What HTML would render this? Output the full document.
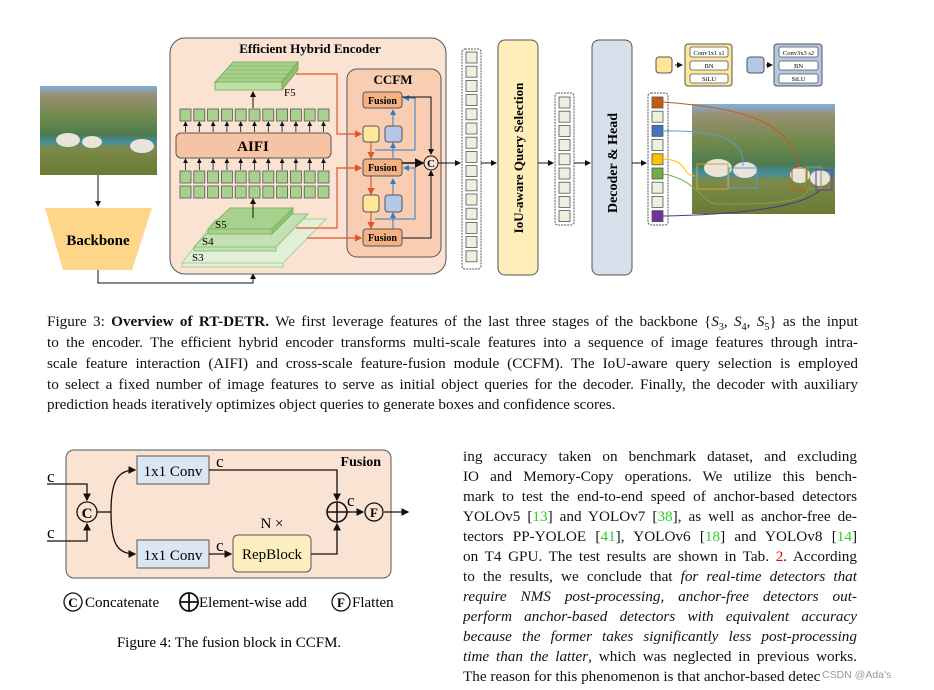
<!DOCTYPE html>
<html><head><meta charset="utf-8"><style>
html,body{margin:0;padding:0;background:#fff;width:934px;height:690px;overflow:hidden}
svg{position:absolute;left:0;top:0}
.t{position:absolute;font-family:"Liberation Serif",serif;font-size:15.2px;color:#111;line-height:20.8px;white-space:nowrap}
.j{text-align:justify;text-align-last:justify;white-space:normal;overflow:hidden;height:21px}
.g{color:#2bd12b}.r{color:#e00}
</style></head><body>
<svg width="934" height="690" viewBox="0 0 934 690" font-family="Liberation Serif,serif">
<defs>
<marker id="a" markerWidth="6" markerHeight="6" refX="5" refY="3" orient="auto"><path d="M0,0L6,3L0,6z" fill="#111"/></marker>
<marker id="ao" markerWidth="6" markerHeight="6" refX="5" refY="3" orient="auto"><path d="M0,0L6,3L0,6z" fill="#e0562a"/></marker>
<marker id="ab" markerWidth="6" markerHeight="6" refX="5" refY="3" orient="auto"><path d="M0,0L6,3L0,6z" fill="#2f7cc9"/></marker>
<linearGradient id="ph" x1="0" y1="0" x2="0" y2="1">
<stop offset="0" stop-color="#7fb0e0"/><stop offset="0.1" stop-color="#9a8f72"/><stop offset="0.35" stop-color="#6f8a4a"/><stop offset="0.55" stop-color="#4f7a50"/><stop offset="0.62" stop-color="#3f8fa0"/><stop offset="0.7" stop-color="#7d8a4a"/><stop offset="1" stop-color="#6a7a35"/></linearGradient>
</defs>
<rect x="40" y="86" width="117" height="89" fill="url(#ph)"/>
<ellipse cx="68" cy="140" rx="12" ry="7" fill="#e8e4da"/><ellipse cx="92" cy="142" rx="10" ry="6" fill="#e8e4da"/><ellipse cx="142" cy="146" rx="12" ry="7" fill="#e8e4da"/>
<line x1="98" y1="175" x2="98" y2="206" stroke="#111" marker-end="url(#a)"/>
<polygon points="45,208 152,208 132,270 63,270" fill="#fdd68a"/>
<text x="98" y="245" text-anchor="middle" font-weight="bold" font-size="15">Backbone</text>
<polyline points="98,270 98,283 253,283 253,274" fill="none" stroke="#111" marker-end="url(#a)"/>
<rect x="170" y="38" width="276" height="236" rx="15" fill="#fbe3d3" stroke="#555"/>
<text x="310" y="53" text-anchor="middle" font-weight="bold" font-size="13">Efficient Hybrid Encoder</text>
<polygon points="215,82 233,62 298,62 282,82" fill="#a9d18e" stroke="#6ea550" stroke-width="0.8"/>
<polygon points="215,82 282,82 282,90 215,90" fill="#bfe0a5" stroke="#6ea550" stroke-width="0.8"/>
<polygon points="282,82 298,62 298,70 282,90" fill="#8fbf70" stroke="#6ea550" stroke-width="0.8"/>
<g stroke="#6ea550" stroke-width="0.6">
<line x1="219" y1="78" x2="286" y2="78"/><line x1="222" y1="74" x2="289" y2="74"/><line x1="226" y1="70" x2="292" y2="70"/><line x1="229" y1="66" x2="295" y2="66"/>
</g>
<text x="284" y="96" font-size="11">F5</text>
<line x1="253" y1="108" x2="253" y2="92" stroke="#111" marker-end="url(#a)"/>
<g id="sq" fill="#a9d18e" stroke="#555" stroke-width="0.8">
<rect x="180" y="109" width="11" height="12"/><rect x="193.8" y="109" width="11" height="12"/><rect x="207.6" y="109" width="11" height="12"/><rect x="221.4" y="109" width="11" height="12"/><rect x="235.2" y="109" width="11" height="12"/><rect x="249" y="109" width="11" height="12"/><rect x="262.8" y="109" width="11" height="12"/><rect x="276.6" y="109" width="11" height="12"/><rect x="290.4" y="109" width="11" height="12"/><rect x="304.2" y="109" width="11" height="12"/><rect x="318" y="109" width="11" height="12"/>
</g>
<use href="#sq" y="77"/>
<use href="#sq" y="62" style="fill:#9dc3e6"/>
<g stroke="#111" stroke-width="0.8" marker-end="url(#a)">
<line x1="185.5" y1="132" x2="185.5" y2="122"/><line x1="199.3" y1="132" x2="199.3" y2="122"/><line x1="213.1" y1="132" x2="213.1" y2="122"/><line x1="226.9" y1="132" x2="226.9" y2="122"/><line x1="240.7" y1="132" x2="240.7" y2="122"/><line x1="254.5" y1="132" x2="254.5" y2="122"/><line x1="268.3" y1="132" x2="268.3" y2="122"/><line x1="282.1" y1="132" x2="282.1" y2="122"/><line x1="295.9" y1="132" x2="295.9" y2="122"/><line x1="309.7" y1="132" x2="309.7" y2="122"/><line x1="323.5" y1="132" x2="323.5" y2="122"/>
<line x1="185.5" y1="170" x2="185.5" y2="159"/><line x1="199.3" y1="170" x2="199.3" y2="159"/><line x1="213.1" y1="170" x2="213.1" y2="159"/><line x1="226.9" y1="170" x2="226.9" y2="159"/><line x1="240.7" y1="170" x2="240.7" y2="159"/><line x1="254.5" y1="170" x2="254.5" y2="159"/><line x1="268.3" y1="170" x2="268.3" y2="159"/><line x1="282.1" y1="170" x2="282.1" y2="159"/><line x1="295.9" y1="170" x2="295.9" y2="159"/><line x1="309.7" y1="170" x2="309.7" y2="159"/><line x1="323.5" y1="170" x2="323.5" y2="159"/>
</g>
<rect x="176" y="133" width="155" height="25" rx="5" fill="#f6c3a3" stroke="#555"/>
<text x="253" y="151" text-anchor="middle" font-weight="bold" font-size="15">AIFI</text>
<polygon points="182,263 216,219 326,219 283,263" fill="#e2f0d9" stroke="#a9d18e"/>
<polygon points="182,263 283,263 283,267 182,267" fill="#e2f0d9" stroke="#a9d18e"/>
<polygon points="194,247 226,214 308,214 276,247" fill="#c5e0b4" stroke="#8fc06f"/>
<polygon points="194,247 276,247 276,251 194,251" fill="#c5e0b4" stroke="#8fc06f"/>
<polygon points="208,229 230,208 293,208 272,229" fill="#a9d18e" stroke="#80b860"/>
<polygon points="208,229 272,229 272,234 208,234 " fill="#a9d18e" stroke="#80b860"/>
<polygon points="272,229 293,208 293,213 272,234" fill="#93c274" stroke="#80b860"/>
<text x="215" y="228" font-size="11">S5</text><text x="202" y="245" font-size="11">S4</text><text x="192" y="261" font-size="11">S3</text>
<line x1="253" y1="218" x2="253" y2="199" stroke="#111" marker-end="url(#a)"/>
<rect x="347" y="69" width="94" height="188" rx="10" fill="#f8cdb2" stroke="#555"/>
<text x="393" y="84" text-anchor="middle" font-weight="bold" font-size="13">CCFM</text>
<g fill="none" stroke="#e0562a" stroke-width="1.2">
<polyline points="296,74 337,74 337,134 361,134" marker-end="url(#ao)"/>
<polyline points="296,228 337,228 337,168 361,168" marker-end="url(#ao)"/>
<polyline points="307,238 361,238" marker-end="url(#ao)"/>
<line x1="371" y1="142" x2="371" y2="158" marker-end="url(#ao)"/>
<line x1="371" y1="176" x2="371" y2="194" marker-end="url(#ao)"/>
<line x1="371" y1="212" x2="371" y2="228" marker-end="url(#ao)"/>
</g>
<g fill="none" stroke="#2f7cc9" stroke-width="1">
<line x1="393" y1="126" x2="393" y2="110" marker-end="url(#ab)"/>
<line x1="393" y1="158" x2="393" y2="143" marker-end="url(#ab)"/>
<line x1="393" y1="195" x2="393" y2="179" marker-end="url(#ab)"/>
<line x1="393" y1="229" x2="393" y2="213" marker-end="url(#ab)"/>
<polyline points="375,150 415,150 415,98 404,98" marker-end="url(#ab)"/>
<polyline points="375,219 415,219 415,168 404,168" marker-end="url(#ab)"/>
</g>
<rect x="363" y="126" width="16" height="16" rx="3" fill="#ffe699" stroke="#555"/>
<rect x="385" y="126" width="17" height="16" rx="3" fill="#b4c7e7" stroke="#555"/>
<rect x="363" y="195" width="16" height="17" rx="3" fill="#ffe699" stroke="#555"/>
<rect x="385" y="195" width="17" height="17" rx="3" fill="#b4c7e7" stroke="#555"/>
<g fill="#f4b183" stroke="#555"><rect x="363" y="92" width="39" height="16" rx="3"/><rect x="363" y="159" width="39" height="17" rx="3"/><rect x="363" y="229" width="39" height="17" rx="3"/></g>
<g font-weight="bold" font-size="10" text-anchor="middle"><text x="382.5" y="104">Fusion</text><text x="382.5" y="171">Fusion</text><text x="382.5" y="241">Fusion</text></g>
<g fill="none" stroke="#111">
<polyline points="402,97 431,97 431,154" marker-end="url(#a)"/>
<polyline points="402,238 431,238 431,171" marker-end="url(#a)"/>
<line x1="402" y1="163" x2="423" y2="163" stroke-width="1.6" marker-end="url(#a)"/>
<line x1="438" y1="163" x2="460" y2="163" marker-end="url(#a)"/>
</g>
<circle cx="431" cy="163" r="7" fill="#fbe3d3" stroke="#111"/>
<text x="431" y="167" text-anchor="middle" font-size="11" font-weight="bold">C</text>
<rect x="462" y="49" width="19" height="220" rx="3" fill="#fff" stroke="#555" stroke-dasharray="2,1"/>
<g fill="#ebf1de" stroke="#555" stroke-width="0.8">
<rect x="466" y="52" width="11" height="11"/><rect x="466" y="66.2" width="11" height="11"/><rect x="466" y="80.4" width="11" height="11"/><rect x="466" y="94.6" width="11" height="11"/><rect x="466" y="108.8" width="11" height="11"/><rect x="466" y="123" width="11" height="11"/><rect x="466" y="137.2" width="11" height="11"/><rect x="466" y="151.4" width="11" height="11"/><rect x="466" y="165.6" width="11" height="11"/><rect x="466" y="179.8" width="11" height="11"/><rect x="466" y="194" width="11" height="11"/><rect x="466" y="208.2" width="11" height="11"/><rect x="466" y="222.4" width="11" height="11"/><rect x="466" y="236.6" width="11" height="11"/><rect x="466" y="250.8" width="11" height="11"/>
</g>
<line x1="481" y1="163" x2="496" y2="163" stroke="#111" marker-end="url(#a)"/>
<rect x="498" y="40" width="40" height="235" rx="7" fill="#fdeeba" stroke="#555"/>
<text transform="translate(523,158) rotate(-90)" text-anchor="middle" font-weight="bold" font-size="13">IoU-aware Query Selection</text>
<line x1="538" y1="163" x2="553" y2="163" stroke="#111" marker-end="url(#a)"/>
<rect x="555" y="93" width="19" height="132" rx="3" fill="#fff" stroke="#555" stroke-dasharray="2,1"/>
<g fill="#ebf1de" stroke="#555" stroke-width="0.8">
<rect x="559" y="97" width="11" height="11"/><rect x="559" y="111.2" width="11" height="11"/><rect x="559" y="125.4" width="11" height="11"/><rect x="559" y="139.6" width="11" height="11"/><rect x="559" y="153.8" width="11" height="11"/><rect x="559" y="168" width="11" height="11"/><rect x="559" y="182.2" width="11" height="11"/><rect x="559" y="196.4" width="11" height="11"/><rect x="559" y="210.6" width="11" height="11"/>
</g>
<line x1="574" y1="163" x2="590" y2="163" stroke="#111" marker-end="url(#a)"/>
<rect x="592" y="40" width="40" height="235" rx="7" fill="#d6dfea" stroke="#555"/>
<text transform="translate(617,163) rotate(-90)" text-anchor="middle" font-weight="bold" font-size="14">Decoder &amp; Head</text>
<line x1="632" y1="163" x2="646" y2="163" stroke="#111" marker-end="url(#a)"/>
<rect x="648" y="93" width="20" height="132" rx="3" fill="#fff" stroke="#555" stroke-dasharray="2,1"/>
<g stroke="#555" stroke-width="0.8">
<rect x="652" y="97" width="11" height="11" fill="#c55a11"/><rect x="652" y="111.2" width="11" height="11" fill="#ebf1de"/><rect x="652" y="125.4" width="11" height="11" fill="#4472c4"/><rect x="652" y="139.6" width="11" height="11" fill="#ebf1de"/><rect x="652" y="153.8" width="11" height="11" fill="#ffc000"/><rect x="652" y="168" width="11" height="11" fill="#70ad47"/><rect x="652" y="182.2" width="11" height="11" fill="#ebf1de"/><rect x="652" y="196.4" width="11" height="11" fill="#ebf1de"/><rect x="652" y="210.6" width="11" height="11" fill="#7030a0"/>
</g>
<rect x="692" y="104" width="143" height="110" fill="url(#ph)"/>
<ellipse cx="718" cy="168" rx="14" ry="9" fill="#e8e4da"/><ellipse cx="745" cy="170" rx="12" ry="8" fill="#e8e4da"/><ellipse cx="800" cy="175" rx="10" ry="8" fill="#e8e4da"/><ellipse cx="820" cy="178" rx="10" ry="8" fill="#e8e4da"/>
<g fill="none" stroke-width="1">
<rect x="697" y="164" width="31" height="25" stroke="#d9a520"/><rect x="729" y="168" width="28" height="20" stroke="#5b9bd5"/>
<rect x="792" y="168" width="15" height="23" stroke="#c55a11"/><rect x="806" y="167" width="15" height="22" stroke="#70ad47"/><rect x="816" y="170" width="16" height="20" stroke="#7030a0"/>
<path d="M663,102 C740,108 790,120 799,166" stroke="#c55a11"/>
<path d="M663,131 C720,130 745,140 743,166" stroke="#5b9bd5"/>
<path d="M663,159 C690,160 680,175 695,176" stroke="#ffc000"/>
<path d="M663,174 C700,180 700,205 720,204 C780,205 805,200 808,190" stroke="#70ad47"/>
<path d="M663,216 C720,215 800,210 820,190" stroke="#3d3d8a"/>
</g>
<rect x="656" y="57" width="16" height="16" rx="3" fill="#ffe699" stroke="#555"/>
<line x1="675" y1="65" x2="682" y2="65" stroke="#111" marker-end="url(#a)"/>
<rect x="685" y="44" width="47" height="42" rx="3" fill="#ffe699" stroke="#555"/>
<rect x="747" y="57" width="17" height="16" rx="3" fill="#b4c7e7" stroke="#555"/>
<line x1="766" y1="65" x2="772" y2="65" stroke="#111" marker-end="url(#a)"/>
<rect x="774" y="44" width="48" height="42" rx="3" fill="#b4c7e7" stroke="#555"/>
<g fill="#fff" stroke="#555" stroke-width="0.8">
<rect x="690" y="47" width="38" height="10" rx="2"/><rect x="690" y="61" width="38" height="9" rx="2"/><rect x="690" y="74" width="38" height="9" rx="2"/>
<rect x="779" y="47" width="39" height="10" rx="2"/><rect x="779" y="61" width="39" height="9" rx="2"/><rect x="779" y="74" width="39" height="9" rx="2"/>
</g>
<g font-size="6.5" text-anchor="middle">
<text x="709" y="55">Conv1x1 s1</text><text x="709" y="68">BN</text><text x="709" y="81">SiLU</text>
<text x="798.5" y="55">Conv3x3 s2</text><text x="798.5" y="68">BN</text><text x="798.5" y="81">SiLU</text>
</g>
<rect x="66" y="450" width="325" height="128" rx="8" fill="#fbe3d3" stroke="#555"/>
<text x="381" y="466" text-anchor="end" font-weight="bold" font-size="14">Fusion</text>
<rect x="137" y="456" width="72" height="28" fill="#dae6f2" stroke="#555"/>
<rect x="137" y="540" width="72" height="28" fill="#dae6f2" stroke="#555"/>
<rect x="233" y="535" width="78" height="37" rx="5" fill="#fdeebd" stroke="#555"/>
<g font-size="15" text-anchor="middle"><text x="173" y="476">1x1 Conv</text><text x="173" y="560">1x1 Conv</text><text x="272" y="559">RepBlock</text><text x="272" y="528">N ×</text></g>
<g fill="none" stroke="#111" stroke-width="1.3">
<polyline points="47,484 87,484 87,500" marker-end="url(#a)"/>
<polyline points="47,541 87,541 87,524" marker-end="url(#a)"/>
<line x1="97" y1="512" x2="111" y2="512"/>
<path d="M111,512 C111,480 118,470 135,470" marker-end="url(#a)"/>
<path d="M111,512 C111,545 118,554 135,554" marker-end="url(#a)"/>
<polyline points="209,470 337,470 337,500" marker-end="url(#a)"/>
<line x1="209" y1="554" x2="231" y2="554" marker-end="url(#a)"/>
<polyline points="311,554 337,554 337,524" marker-end="url(#a)"/>
<line x1="347" y1="512" x2="363" y2="512" marker-end="url(#a)"/>
<line x1="384" y1="512" x2="408" y2="512" marker-end="url(#a)"/>
</g>
<circle cx="87" cy="512" r="10" fill="#fbe3d3" stroke="#111" stroke-width="1.3"/>
<text x="87" y="518" text-anchor="middle" font-weight="bold" font-size="15">C</text>
<circle cx="337" cy="512" r="10" fill="none" stroke="#111" stroke-width="1.6"/>
<path d="M327,512H347M337,502V522" stroke="#111" stroke-width="1.6"/>
<circle cx="374" cy="512" r="9" fill="#fbe3d3" stroke="#111" stroke-width="1.3"/>
<text x="374" y="517" text-anchor="middle" font-weight="bold" font-size="13">F</text>
<g font-size="17"><text x="47" y="482">c</text><text x="47" y="538">c</text><text x="216" y="467">c</text><text x="216" y="551">c</text><text x="347" y="506">c</text></g>
<circle cx="73" cy="602" r="9" fill="none" stroke="#111" stroke-width="1.3"/>
<text x="73" y="607" text-anchor="middle" font-weight="bold" font-size="13">C</text>
<text x="85" y="607" font-size="15">Concatenate</text>
<circle cx="189" cy="602" r="9" fill="none" stroke="#111" stroke-width="1.8"/>
<path d="M180,602H198M189,593V611" stroke="#111" stroke-width="1.8"/>
<text x="199" y="607" font-size="15">Element-wise add</text>
<circle cx="341" cy="602" r="9" fill="none" stroke="#111" stroke-width="1.3"/>
<text x="341" y="607" text-anchor="middle" font-weight="bold" font-size="13">F</text>
<text x="352" y="607" font-size="15">Flatten</text>
<text x="229" y="647" text-anchor="middle" font-size="15">Figure 4: The fusion block in CCFM.</text>
</svg>
<div class="t j" style="left:47px;top:312px;width:811px">Figure 3: <b>Overview of RT-DETR.</b> We first leverage features of the last three stages of the backbone {<i>S</i><sub style="font-size:10px">3</sub>, <i>S</i><sub style="font-size:10px">4</sub>, <i>S</i><sub style="font-size:10px">5</sub>} as the input</div>
<div class="t j" style="left:47px;top:333px;width:811px">to the encoder. The efficient hybrid encoder transforms multi-scale features into a sequence of image features through intra-</div>
<div class="t j" style="left:47px;top:354px;width:811px">scale feature interaction (AIFI) and cross-scale feature-fusion module (CCFM). The IoU-aware query selection is employed</div>
<div class="t j" style="left:47px;top:375px;width:811px">to select a fixed number of image features to serve as initial object queries for the decoder. Finally, the decoder with auxiliary</div>
<div class="t" style="left:47px;top:395px">prediction heads iteratively optimizes object queries to generate boxes and confidence scores.</div>
<div class="t j" style="left:463px;top:447px;width:394px">ing accuracy taken on benchmark dataset, and excluding</div>
<div class="t j" style="left:463px;top:467px;width:394px">IO and Memory-Copy operations. We utilize this bench-</div>
<div class="t j" style="left:463px;top:487px;width:394px">mark to test the end-to-end speed of anchor-based detectors</div>
<div class="t j" style="left:463px;top:507px;width:394px">YOLOv5 [<span class="g">13</span>] and YOLOv7 [<span class="g">38</span>], as well as anchor-free de-</div>
<div class="t j" style="left:463px;top:527px;width:394px">tectors PP-YOLOE [<span class="g">41</span>], YOLOv6 [<span class="g">18</span>] and YOLOv8 [<span class="g">14</span>]</div>
<div class="t j" style="left:463px;top:547px;width:394px">on T4 GPU. The test results are shown in Tab. <span class="r">2</span>. According</div>
<div class="t j" style="left:463px;top:567px;width:394px">to the results, we conclude that <i>for real-time detectors that</i></div>
<div class="t j" style="left:463px;top:587px;width:394px"><i>require NMS post-processing, anchor-free detectors out-</i></div>
<div class="t j" style="left:463px;top:607px;width:394px"><i>perform anchor-based detectors with equivalent accuracy</i></div>
<div class="t j" style="left:463px;top:627px;width:394px"><i>because the former takes significantly less post-processing</i></div>
<div class="t j" style="left:463px;top:647px;width:394px"><i>time than the latter</i>, which was neglected in previous works.</div>
<div class="t" style="left:463px;top:667px">The reason for this phenomenon is that anchor-based detec</div>
<div style="position:absolute;left:822px;top:669px;font-family:'Liberation Sans',sans-serif;font-size:10.5px;color:#999">CSDN @Ada's</div>
</body></html>
